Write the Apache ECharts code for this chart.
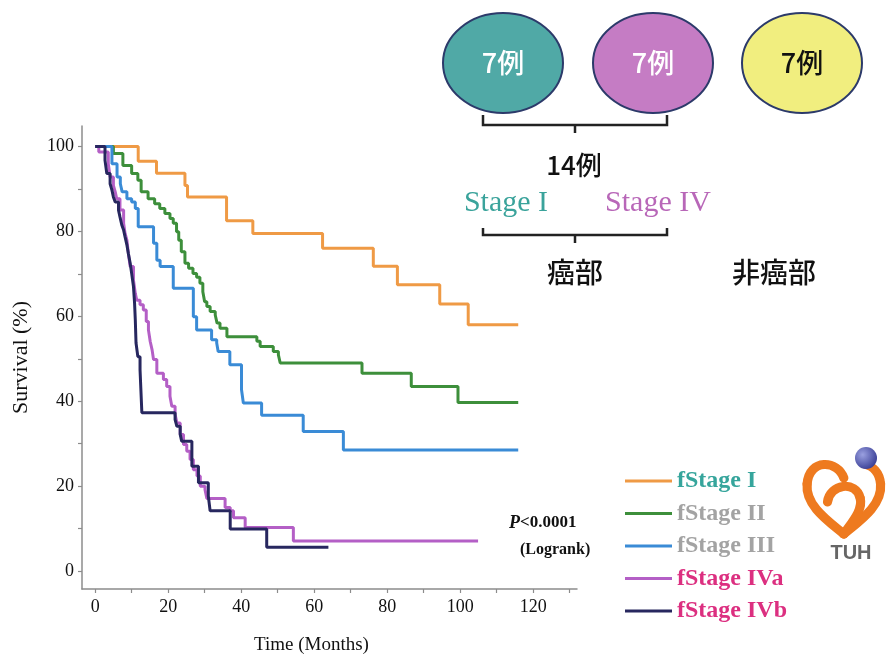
<!DOCTYPE html>
<html><head><meta charset="utf-8">
<script src="https://cdn.jsdelivr.net/npm/echarts@6/dist/echarts.min.js"></script>
<style>html,body{margin:0;padding:0;background:#fff}#c{width:888px;height:660px}</style>
</head><body><div id="c"></div>
<script>
// ---------- data ----------
const seriesNames = ['fStage I', 'fStage II', 'fStage III', 'fStage IVa', 'fStage IVb'];
const seriesColors = ['#ef9a45', '#3d8f3b', '#3a8bd6', '#b45fc6', '#27275f'];
const legendTextColors = ['#36a59c', '#a3a3a3', '#a3a3a3', '#dc2f80', '#dc2f80'];
const xTickLabels = [0, 20, 40, 60, 80, 100, 120];
const xTickMarks = [0, 10, 20, 30, 40, 50, 60, 70, 80, 90, 100, 110, 120, 130];
const yTickLabels = [0, 20, 40, 60, 80, 100];
const yTickMarks = [0, 10, 20, 30, 40, 50, 60, 70, 80, 90, 100];

// [months, survival %] after each event (Kaplan-Meier steps)
const fStageI = [[0,100],[11.8,96.5],[16.8,93.7],[24.6,90.8],[25.3,88.1],[36.0,82.5],[43.2,79.5],[62.3,76.0],[76.2,71.8],[82.8,67.4],[94.4,62.9],[102.2,58.0],[115.9,58.0]];
const fStageII = [[0,100],[5.0,98.3],[7.6,95.5],[10.0,93.6],[11.7,92.0],[12.6,89.3],[14.5,87.7],[16.3,86.5],[17.7,85.4],[19.1,84.2],[20.5,83.0],[21.4,81.9],[22.3,79.9],[22.9,77.9],[23.6,75.2],[24.6,72.5],[25.6,71.3],[26.8,70.1],[27.8,69.2],[28.7,67.8],[29.5,65.8],[30.0,63.4],[30.6,62.3],[31.5,61.1],[32.9,60.3],[33.4,58.4],[34.2,57.2],[36.1,55.2],[44.3,54.1],[45.2,52.9],[48.8,51.7],[50.2,50.9],[50.7,49.0],[73.1,46.6],[86.6,43.5],[99.4,39.7],[115.9,39.7]];
const fStageIII = [[0,100],[4.6,95.9],[6.0,92.8],[6.9,91.2],[7.4,89.3],[8.7,87.7],[10.0,86.9],[11.0,85.4],[11.8,81.1],[16.0,77.2],[16.9,73.2],[17.8,71.7],[21.4,66.6],[26.9,59.9],[27.8,56.8],[31.9,54.5],[33.3,53.7],[33.7,51.7],[36.9,48.6],[40.1,42.7],[40.6,39.6],[45.6,36.7],[57.0,32.9],[68.0,28.5],[115.9,28.5]];
const fStageIVa = [[0,100],[1.0,98.7],[3.6,95.9],[4.1,92.8],[5.0,90.8],[5.5,89.3],[5.9,87.7],[6.8,85.0],[7.8,81.9],[8.2,79.5],[8.7,77.9],[9.1,74.8],[9.6,71.7],[10.5,68.5],[11.0,65.4],[11.4,63.8],[12.3,62.7],[13.2,61.5],[14.0,58.8],[14.6,56.8],[15.1,54.0],[15.6,52.1],[16.0,49.8],[16.9,46.6],[18.7,45.1],[19.6,43.5],[20.5,41.2],[21.0,38.8],[21.9,36.9],[22.4,34.9],[23.3,32.2],[24.2,29.8],[25.1,28.2],[26.0,26.3],[26.9,23.9],[27.9,22.4],[28.8,20.0],[30.1,19.2],[30.6,17.1],[35.6,15.0],[37.0,14.2],[37.9,12.6],[41.1,10.3],[54.3,7.1],[104.9,7.1]];
const fStageIVb = [[0,100],[2.7,96.7],[3.2,93.6],[4.1,91.2],[4.6,89.7],[5.0,88.1],[5.5,86.9],[6.4,85.0],[6.8,83.4],[7.3,81.5],[7.8,80.3],[8.2,78.7],[8.7,76.8],[9.1,74.8],[9.6,72.5],[10.0,70.1],[10.5,67.0],[10.8,63.1],[11.0,59.2],[11.2,53.7],[11.7,50.5],[12.3,47.4],[12.8,37.3],[21.9,35.7],[22.4,34.1],[23.3,32.2],[23.7,30.6],[26.5,24.7],[28.3,20.8],[31.0,17.7],[31.5,14.2],[37.0,9.9],[47.0,5.6],[63.9,5.6]];
const seriesData = [fStageI, fStageII, fStageIII, fStageIVa, fStageIVb];

// annotation texts
const caseCounts = ['7例', '7例', '7例'];
const caseTotal = '14例';
const stageLabels = ['Stage I', 'Stage IV'];
const groupLabels = ['癌部', '非癌部'];
const pValueText = ['P', '<0.0001'];
const testText = '(Logrank)';
const xTitle = 'Time (Months)';
const yTitle = 'Survival (%)';

// ---------- chart ----------
const chart = echarts.init(document.getElementById('c'), null, { renderer: 'canvas' });
const serif = '"Liberation Serif", "Times New Roman", serif';
const cjk = '"Noto Sans CJK JP", "Noto Sans", sans-serif';
const axisGray = '#8c8c8c';

const series = seriesNames.map((n, i) => ({
  name: n,
  type: 'line',
  step: 'end',
  data: seriesData[i],
  symbol: 'none',
  showSymbol: false,
  color: seriesColors[i],
  lineStyle: { width: 3, color: seriesColors[i] },
  silent: true,
  animation: false
}));

const ellipseColors = ['#50a9a6', '#c57cc4', '#f1ee7f'];
const ellipseTextColors = ['#ffffff', '#ffffff', '#111111'];
const ellipseCx = [503, 653, 802];

const graphics = [];
ellipseCx.forEach((cx, i) => {
  graphics.push({
    type: 'ellipse',
    shape: { cx: cx, cy: 63, rx: 60, ry: 50 },
    style: { fill: ellipseColors[i], stroke: '#2c3a6a', lineWidth: 2 }
  });
  graphics.push({
    type: 'text', x: cx, y: 63,
    style: { text: caseCounts[i], fill: ellipseTextColors[i], font: '500 27px ' + cjk,
             align: 'center', verticalAlign: 'middle', textAlign: 'center', textVerticalAlign: 'middle' }
  });
});
// brackets
[[115, 125, 133], [228, 235, 243]].forEach(b => {
  graphics.push({
    type: 'polyline',
    shape: { points: [[483, b[0]], [483, b[1]], [667, b[1]], [667, b[0]]] },
    style: { stroke: '#222', lineWidth: 2.5, fill: null }
  });
  graphics.push({
    type: 'line',
    shape: { x1: 575, y1: b[1], x2: 575, y2: b[2] },
    style: { stroke: '#222', lineWidth: 2.5 }
  });
});
function txt(x, y, text, font, fill, align) {
  return { type: 'text', x: x, y: y,
    style: { text: text, font: font, fill: fill, align: align || 'center', verticalAlign: 'middle',
             textAlign: align || 'center', textVerticalAlign: 'middle' } };
}
graphics.push(txt(574, 165, caseTotal, '500 26px ' + cjk, '#111'));
graphics.push(txt(506, 203, stageLabels[0], '30px ' + serif, '#3aa39b'));
graphics.push(txt(658, 203, stageLabels[1], '30px ' + serif, '#b867b8'));
graphics.push(txt(575, 272, groupLabels[0], '500 28px ' + cjk, '#111'));
graphics.push(txt(774, 272, groupLabels[1], '500 28px ' + cjk, '#111'));
graphics.push({
  type: 'text', x: 509, y: 523,
  style: {
    text: '{p|' + pValueText[0] + '}{r|' + pValueText[1] + '}',
    rich: {
      p: { fontFamily: 'Liberation Serif', fontSize: 18, fontWeight: 'bold', fontStyle: 'italic', fill: '#111', color: '#111' },
      r: { fontFamily: 'Liberation Serif', fontSize: 17, fontWeight: 'bold', fill: '#111', color: '#111' }
    },
    align: 'left', verticalAlign: 'middle', textAlign: 'left', textVerticalAlign: 'middle'
  }
});
graphics.push(txt(520, 550, testText, 'bold 16px ' + serif, '#111', 'left'));
// TUH logo (decorative), drawn with bezier strokes
const logoCurves = [
  [42,26, 36,8, 8,6, 6,32],
  [6,32, 4,54, 28,70, 42,82],
  [42,82, 56,70, 80,54, 78,32],
  [78,32, 77,20, 70,14, 62,12],
  [26,50, 28,32, 54,28, 58,46],
  [58,46, 61,58, 50,70, 42,82]
];
logoCurves.forEach(c => {
  graphics.push({
    type: 'bezierCurve', x: 801, y: 452, scaleX: 1.02, scaleY: 1.0,
    shape: { x1: c[0], y1: c[1], cpx1: c[2], cpy1: c[3], cpx2: c[4], cpy2: c[5], x2: c[6], y2: c[7] },
    style: { fill: null, stroke: '#ee7a1f', lineWidth: 9, lineCap: 'round' }
  });
});
graphics.push({
  type: 'circle', shape: { cx: 866, cy: 458, r: 11 },
  style: { fill: { type: 'radial', x: 0.35, y: 0.35, r: 0.7,
    colorStops: [{ offset: 0, color: '#9aa0e0' }, { offset: 1, color: '#3a3f96' }] } }
});
graphics.push(txt(851, 553, 'TUH', 'bold 20px "Liberation Sans", sans-serif', '#666'));

const option = {
  backgroundColor: '#ffffff',
  animation: false,
  grid: { left: 82, right: 311, top: 126, bottom: 70, containLabel: false },
  xAxis: {
    type: 'value', min: -3.6, max: 132,
    name: xTitle, nameLocation: 'middle', nameGap: 47,
    nameTextStyle: { fontFamily: 'Liberation Serif', fontSize: 19, color: '#111', padding: [0, 36, 0, 0] },
    axisLine: { show: true, onZero: false, lineStyle: { color: axisGray, width: 1.5 } },
    axisTick: { show: true, customValues: xTickMarks, length: 4, lineStyle: { color: axisGray, width: 1.2 } },
    axisLabel: { customValues: xTickLabels, fontFamily: 'Liberation Serif', fontSize: 18, color: '#111', margin: 9 },
    splitLine: { show: false }
  },
  yAxis: {
    type: 'value', min: -4.2, max: 104.8,
    name: yTitle, nameLocation: 'middle', nameGap: 50, nameRotate: 90,
    nameTextStyle: { fontFamily: 'Liberation Serif', fontSize: 22, color: '#111' },
    axisLine: { show: true, onZero: false, lineStyle: { color: axisGray, width: 1.5 } },
    axisTick: { show: true, customValues: yTickMarks, length: 4, lineStyle: { color: axisGray, width: 1.2 } },
    axisLabel: { customValues: yTickLabels, fontFamily: 'Liberation Serif', fontSize: 18, color: '#111', margin: 8 },
    splitLine: { show: false }
  },
  legend: {
    orient: 'vertical', left: 625, top: 469, padding: 0,
    icon: 'rect', itemWidth: 47, itemHeight: 3, itemGap: 8.5,
    selectedMode: false,
    data: seriesNames.map((n, i) => ({ name: n, textStyle: { color: legendTextColors[i] } })),
    textStyle: { fontFamily: 'Liberation Serif', fontSize: 24, fontWeight: 'bold', lineHeight: 24 }
  },
  series: series,
  graphic: { elements: graphics }
};
chart.setOption(option);
</script>
</body></html>
